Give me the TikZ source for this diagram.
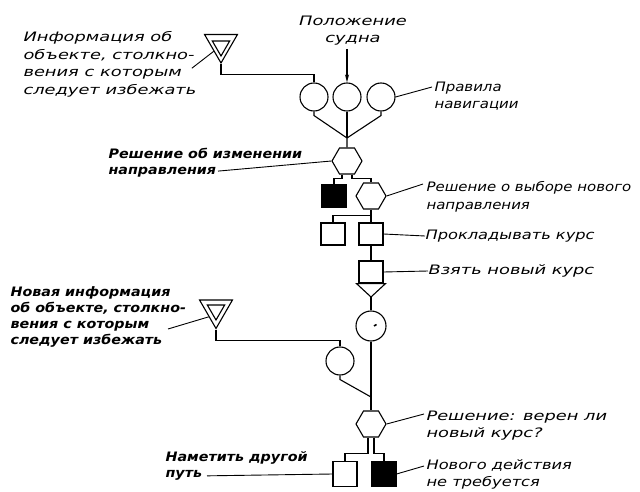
\documentclass[tikz,border=0pt]{standalone}
\usepackage{fontspec}
\setmainfont{DejaVu Sans}[FakeStretch=1.25]
\newfontfamily\widelbl{DejaVu Sans}[FakeStretch=1.37]
\newfontfamily\narrowlbl{DejaVu Sans}[FakeStretch=1.15]
\newfontfamily\boldlbl{DejaVu Sans}[FakeStretch=1.1]
\usetikzlibrary{arrows.meta,positioning,calc,shapes.geometric}

\begin{document}
\begin{tikzpicture}[x=1pt, y=-1pt, line width=1.1pt,
    cond/.style={circle, draw, minimum size=28pt, inner sep=0pt},
    decide/.style={regular polygon, regular polygon sides=6, draw,
      minimum size=30pt, inner sep=0pt},
    task/.style={rectangle, draw, minimum width=24pt, minimum height=22pt,
      inner sep=0pt},
    taskoff/.style={task, fill=black},
    infosrc/.style={regular polygon, regular polygon sides=3,
      shape border rotate=180, draw, inner sep=0pt},
    lbl/.style={font=\itshape\fontsize{13}{17.5}\selectfont, align=left,
      inner sep=0pt},
    wlbl/.style={lbl, font=\widelbl\itshape\fontsize{13}{17.5}\selectfont},
    nlbl/.style={lbl, font=\narrowlbl\itshape\fontsize{13}{17.5}\selectfont},
    blbl/.style={lbl, font=\boldlbl\bfseries\itshape\fontsize{13}{16}\selectfont},
    lead/.style={line width=0.9pt}
  ]
    \useasboundingbox (0,0) rectangle (640,492);

    % upper chain
    \node[infosrc, minimum size=38pt] (src1) at (221,44) {};
    \node[infosrc, minimum size=20pt] (src1in) at (221,46) {};
    \node[cond] (c1) at (314,97) {};
    \node[cond] (c2) at (347,97) {};
    \node[cond] (c3) at (381,97) {};
    \coordinate (j1) at (347,138);
    \node[decide] (d1) at (347,161) {};
    \node[taskoff] (no1) at (334,196) {};
    \node[decide] (d2) at (371,196) {};
    \node[task] (t1) at (333,234) {};
    \node[task] (t2) at (371,234) {};
    \node[task] (t3) at (371,272) {};
    \coordinate (t3tip) at (371,297);
    \node[cond, minimum size=30pt] (c5) at (371,326) {};

    % lower chain
    \node[infosrc, minimum size=38pt] (src2) at (216,309.5) {};
    \node[infosrc, minimum size=20pt] (src2in) at (216,310) {};
    \node[cond] (c4) at (340,361) {};
    \coordinate (j2) at (371,397);
    \node[decide] (d3) at (371,424) {};
    \node[task, minimum height=25pt] (t4) at (345,474) {};
    \node[taskoff, minimum height=25pt] (no2) at (384,474) {};

    % labels
    \node[wlbl, anchor=north west] (lsrc1) at (23,31)
      {Информация об\\объекте, столкно-\\вения с которым\\следует избежать};
    \node[wlbl, align=center, anchor=north] (lpos) at (353,15) {Положение\\судна};
    \node[nlbl, anchor=north west] (lnav) at (434,81) {Правила\\навигации};
    \node[blbl, anchor=north west] (ld1) at (108,148)
      {Решение об изменении\\направления};
    \node[nlbl, anchor=north west] (ld2) at (426,181)
      {Решение о выборе нового\\направления};
    \node[lbl, anchor=west] (lt2) at (425,236) {Прокладывать курс};
    \node[wlbl, anchor=west] (lt3) at (428,271) {Взять новый курс};
    \node[blbl, anchor=north west] (lsrc2) at (10,286)
      {Новая информация\\об объекте, столкно-\\вения с которым\\следует избежать};
    \node[wlbl, anchor=north west] (ld3) at (426,410) {Решение: верен ли\\новый курс?};
    \node[blbl, anchor=north west] (lt4) at (165,451) {Наметить другой\\путь};
    \node[lbl, anchor=north west] (lno2) at (426,459) {Нового действия\\не требуется};

    % flow
    \draw (src1.south) -- ++(0,10) -| (c1.north);
    \draw[-{Stealth[length=8pt,width=4pt]}] ($(lpos.south)+(-6,3)$) -- (c2.north);
    \draw (c1.south) -- ++(0,4) -- (j1) -- (d1.north);
    \draw (c2.south) -- (j1);
    \draw (c3.south) -- ++(0,4) -- (j1);
    \draw ($(d1.south)+(-5,0)$) -- ++(0,4) -| (no1.north);
    \draw ($(d1.south)+(5,0)$) -- ++(0,4) -| (d2.north);
    \draw (d2.south) -- (t2.north);
    \draw ($(d2.south)+(0,6)$) -| (t1.north);
    \draw (t2.south) -- (t3.north);
    \draw ($(t3.south west)+(-2,0)$) -- ($(t3.south east)+(2,0)$) -- (t3tip) -- cycle;
    \draw (t3tip) -- (c5.north);
    \draw[line width=1.6pt] ($(c5.center)+(3,0)$) -- ++(2.5,-1.5);
    \draw (c5.south) -- (d3.north);
    \draw (src2.south) -- ++(0,11) -| (c4.north);
    \draw (c4.south) -- ++(0,4) -- (j2);
    \draw ($(d3.south)+(-3,0)$) -- ++(0,16) -| (t4.north);
    \draw ($(d3.south)+(3,0)$) -- ++(0,16) -| (no2.north);

    % leaders
    \draw[lead] ($(lsrc1.east)+(-5,4)$) -- (src1.south west);
    \draw[lead] (c3.east) -- ($(lnav.north west)+(-2,6)$);
    \draw[lead] ($(ld1.south west)+(110,-7)$) -- (d1.west);
    \draw[lead] (d2.east) -- ($(ld2.north west)+(-3,3)$);
    \draw[lead] (t2.east) -- (lt2.west);
    \draw[lead] (t3.east) -- (lt3.west);
    \draw[lead] ($(lsrc2.north west)+(158,43)$) -- (src2.south west);
    \draw[lead] (d3.east) -- ($(ld3.north west)+(-2,4)$);
    \draw[lead] (no2.east) -- ($(lno2.north west)+(-2,7)$);
    \draw[lead] ($(lt4.south west)+(42,-5)$) -- (t4.west);
  \end{tikzpicture}
\end{document}
